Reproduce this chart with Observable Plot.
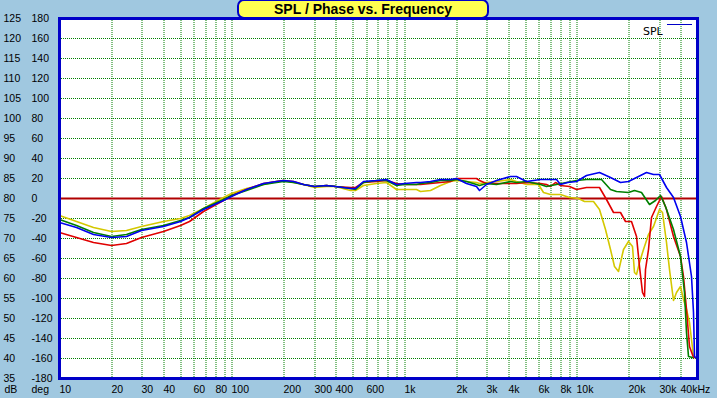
<!DOCTYPE html>
<html>
<head>
<meta charset="utf-8">
<script src="https://cdn.jsdelivr.net/npm/d3@7"></script>
<script src="https://cdn.jsdelivr.net/npm/@observablehq/plot@0.6"></script>
<style>
  html, body { margin: 0; padding: 0; background: #A0C8E0; }
  #wrap { position: relative; width: 717px; height: 398px; background: #A0C8E0; overflow: hidden; }
  #title { position: absolute; left: 237px; top: -1px; width: 248px; height: 16px; background: #FFFF50;
    border: 2px solid #0000C8; border-radius: 7px; font: bold 14px "Liberation Sans", Arial, sans-serif;
    text-align: center; line-height: 17px; color: #000; }
  #legend { position: absolute; left: 643px; top: 25px; font: 11px "DejaVu Sans", sans-serif; color: #000; }
  #legline { position: absolute; left: 667px; top: 24px; width: 25px; height: 1px; background: #0000C8; }
</style>
</head>
<body>
<div id="wrap">
  <div id="chart"></div>
  <div id="title">SPL / Phase vs. Frequency</div>
  <div id="legend">SPL</div>
  <div id="legline"></div>
</div>
<script>
// ---- data ----
const dbTicks = [125,120,115,110,105,100,95,90,85,80,75,70,65,60,55,50,45,40,35];
const degTicks = [180,160,140,120,100,80,60,40,20,0,-20,-40,-60,-80,-100,-120,-140,-160,-180];
const xTickValues = [10,20,30,40,60,80,100,200,300,400,600,1000,2000,3000,4000,6000,8000,10000,20000,30000,40000];
const xTickLabels = ["10","20","30","40","60","80","100","200","300","400","600","1k","2k","3k","4k","6k","8k","10k","20k","30k","40kHz"];
const gridFreqs = [20,30,40,50,60,70,80,90,100,200,300,400,500,600,700,800,900,1000,2000,3000,4000,5000,6000,7000,8000,9000,10000,20000,30000,40000];
const gridDb = [120,115,110,105,100,95,90,85,75,70,65,60,55,50,45,40];
const phaseZeroDeg = [0];

const lowFreqs = [10,12.6,15.8,20,24.6,30,40,50,57,68,89,100,122,152,182,200,227,260,300,355,400,484,518,578,692,791,903,1000,1175,1233,1409,1610,1840,2000,2296,2623,2740,3000,3428,4095,4478,5120];

const yellowLowDb = [75.8,74.3,72.7,71.7,72.0,73.1,74.2,75.0,75.8,77.5,80.2,81.2,82.5,83.6,84.2,84.4,84.1,83.4,82.7,83.1,83.0,82.1,81.9,83.25,83.75,84.1,82.25,82.25,82.2,81.8,82.1,83.25,84.3,84.6,84.3,84.1,83.75,83.9,84.3,84.75,84.3,83.6];
const blueLowDb = [73.9,72.7,71.0,70.2,70.6,72.0,73.1,74.3,75.2,77.3,79.5,80.6,82.25,83.75,84.3,84.5,84.3,83.5,83.1,83.25,83.1,82.4,82.6,84.3,84.6,84.75,83.5,83.75,83.9,84.1,84.3,84.75,84.75,84.9,83.75,82.9,82.1,83.5,84.6,85.6,85.4,84.3];
const greenLowDb = [74.75,73.3,71.4,70.6,71.0,72.25,73.3,74.5,75.3,77.4,79.7,80.8,82.1,83.5,84.1,84.2,84.0,83.5,83.1,83.25,83.1,82.4,82.3,84.1,84.5,84.6,83.25,83.5,83.6,83.75,84.1,84.5,84.6,84.8,84.3,83.5,83.25,83.75,83.5,84.3,83.9,84.3];
const redLowDb = [71.4,70.3,69.1,68.25,68.7,70.2,71.8,73.3,74.3,76.8,79.6,80.7,82.2,83.7,84.3,84.5,84.2,83.5,83.1,83.25,83.1,82.7,82.7,84.1,84.3,84.6,83.75,83.6,83.5,83.5,83.75,84.1,84.3,84.9,85.0,85.0,84.6,83.75,83.75,83.75,83.75,84.1];

const yellowHighFreqs = [6000,6400,7000,8000,9100,10200,11000,12400,13600,14600,15600,16600,17400,18600,20000,21000,21700,22200,23000,24300,25900,27700,30100,31400,33100,34600,36500,37800,40000,41400,43300,45200,47200,48500];
const yellowHighDb = [83.4,81.4,81.0,81.0,80.2,80.0,79.3,79.3,77.25,72.25,67.25,63.1,61.8,67.25,69.3,68.1,61.4,61.0,63.9,67.25,71.0,73.1,77.25,76.4,68.9,62.25,54.4,56.4,58.1,54.75,52.25,48.9,40.6,40.2];

const blueHighFreqs = [6110,6680,7640,8000,8800,10000,11400,13600,15600,17800,20000,22200,25300,27700,30000,33100,36200,40000,43300,46300,47200,48300,49000];
const blueHighDb = [84.75,84.75,84.8,83.5,84.1,84.3,85.75,86.4,85.2,83.9,84.3,85.2,86.6,86.0,86.0,82.7,80.2,75.6,68.9,60.6,51.4,40.6,40.2];

const greenHighFreqs = [6110,6680,7640,10000,11400,13900,15600,17000,20000,21700,23700,26500,28500,30500,32400,36200,40000,42300,43300,44200,47000];
const greenHighDb = [83.5,83.1,83.5,84.6,84.75,84.75,82.25,81.8,81.4,82.1,81.4,78.5,79.5,80.75,78.1,72.25,65.6,56.4,46.4,40.6,40.2];

const redHighFreqs = [6110,6680,7000,7500,8000,9000,10000,11400,13600,14900,16300,17800,19000,20800,22200,23200,24100,24600,25100,25900,27100,29000,31000,33100,36200,40000,41400,43300,45200,47200,48500];
const redHighDb = [83.75,83.5,83.1,83.9,83.3,83.1,82.25,82.7,82.7,79.75,76.4,76.4,74.3,74.3,70.6,63.1,56.4,55.6,62.25,67.25,75.2,78.1,80.6,77.25,70.6,65.6,60.6,52.25,43.1,40.2,40.2];

// ---- build tables ----
function series(name, lowDb, hiF, hiDb) {
  const rows = [];
  lowFreqs.forEach((f, i) => { if (f < hiF[0]) rows.push({f, db: lowDb[i], s: name}); });
  hiF.forEach((f, i) => rows.push({f, db: hiDb[i], s: name}));
  return rows;
}
const yellow = series("yellow", yellowLowDb, yellowHighFreqs, yellowHighDb);
const green = series("green", greenLowDb, greenHighFreqs, greenHighDb);
const red = series("red", redLowDb, redHighFreqs, redHighDb);
const blue = series("blue", blueLowDb, blueHighFreqs, blueHighDb);

const gridStyle = {stroke: "#008000", strokeDasharray: "1,1", strokeWidth: 1};
const font = "'Liberation Sans', Arial, sans-serif";
const lbl = {fill: "#000", lineAnchor: "middle", textAnchor: "start"};

const chart = Plot.plot({
  width: 717,
  height: 398,
  marginLeft: 59,
  marginRight: 20,
  marginTop: 18,
  marginBottom: 20,
  style: {background: "transparent", fontFamily: font, fontSize: "10.5px", color: "#000"},
  x: {type: "log", domain: [10, 50000], axis: null, round: true},
  y: {domain: [35, 125], axis: null, round: true},
  marks: [
    Plot.frame({fill: "white", stroke: "none"}),
    Plot.ruleX(gridFreqs, {x: d => d, dx: 0.5, ...gridStyle}),
    Plot.ruleY(gridDb, {y: d => d, ...gridStyle}),
    Plot.ruleY(phaseZeroDeg, {y: d => 80 + d / 4, stroke: "#B00000", strokeWidth: 2}),
    Plot.line(yellow, {x: "f", y: "db", stroke: "#D4C800", strokeWidth: 1.6}),
    Plot.line(red, {x: "f", y: "db", stroke: "#E00000", strokeWidth: 1.6}),
    Plot.line(green, {x: "f", y: "db", stroke: "#008000", strokeWidth: 1.6}),
    Plot.line(blue, {x: "f", y: "db", stroke: "#0000F0", strokeWidth: 1.6}),
    Plot.frame({stroke: "#0000C8", strokeWidth: 3}),
    Plot.text(dbTicks, {y: d => d, text: d => String(d), frameAnchor: "left", dx: -56, ...lbl}),
    Plot.text(degTicks, {y: d => 80 + d / 4, text: d => String(d), frameAnchor: "left", dx: -28, ...lbl}),
    Plot.text(xTickValues, {x: d => d, text: (d, i) => xTickLabels[i], frameAnchor: "bottom", dy: 11, ...lbl}),
    Plot.text(["dB"], {frameAnchor: "bottom-left", dx: -55, dy: 11, ...lbl}),
    Plot.text(["deg"], {frameAnchor: "bottom-left", dx: -28, dy: 11, ...lbl})
  ]
});
document.getElementById("chart").appendChild(chart);
</script>
</body>
</html>
